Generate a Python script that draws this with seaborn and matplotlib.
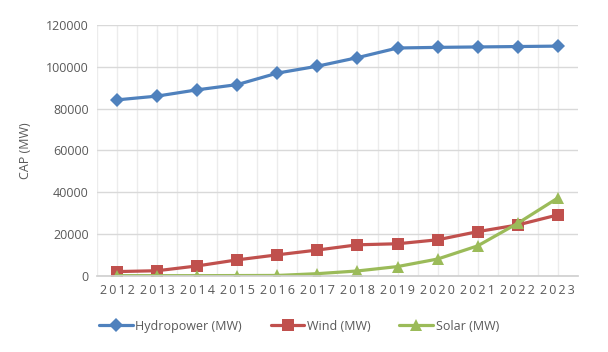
import pandas as pd
import matplotlib
matplotlib.use('Agg')
import matplotlib.pyplot as plt
import seaborn as sns

years = list(range(2012, 2024))
hydro = [84200, 86000, 89000, 91500, 97000, 100300, 104400, 109000, 109300, 109500, 109700, 109900]
wind = [2100, 2500, 4800, 7700, 10100, 12400, 14900, 15400, 17300, 21200, 24400, 29200]
solar = [150, 150, 150, 200, 250, 1100, 2400, 4500, 8100, 14400, 25200, 37300]
series_names = ['Hydropower (MW)', 'Wind (MW)', 'Solar (MW)']
y_ticks = [0, 20000, 40000, 60000, 80000, 100000, 120000]

sns.set_theme(style='white')
plt.rcParams['font.family'] = ['Open Sans', 'DejaVu Sans']
TXT = '#595959'

rows = []
for name, vals in zip(series_names, [hydro, wind, solar]):
    for y, v in zip(years, vals):
        rows.append({'year': y, 'value': v, 'series': name})
df = pd.DataFrame(rows)

fig = plt.figure(figsize=(6.08, 3.52), dpi=100)
ax = fig.add_axes([0.1595, 0.216, 0.791, 0.713])

palette = {'Hydropower (MW)': '#4F81BD', 'Wind (MW)': '#C0504D', 'Solar (MW)': '#9BBB59'}
markers = {'Hydropower (MW)': 'D', 'Wind (MW)': 's', 'Solar (MW)': '^'}
sizes = {'Hydropower (MW)': 7.5, 'Wind (MW)': 8, 'Solar (MW)': 9}

for name in series_names:
    sub = df[df['series'] == name]
    sns.lineplot(data=sub, x='year', y='value', ax=ax, color=palette[name],
                 marker=markers[name], markersize=sizes[name], markeredgewidth=0,
                 linewidth=2.3, label=name)

ax.set_xlim(2011.5, 2023.5)
ax.set_ylim(0, 120000)
ax.set_yticks(y_ticks)
ax.set_yticklabels([str(t) for t in y_ticks], color=TXT, fontsize=9)
ax.set_xticks(years)
ax.set_xticklabels(['\u2009'.join(str(y)) for y in years], color=TXT, fontsize=9)
ax.set_xticks([y + 0.5 for y in years[:-1]] + [2011.5], minor=True)
ax.grid(True, which='both', axis='x', color='#ececec', linewidth=1)
ax.grid(True, which='major', axis='y', color='#d9d9d9', linewidth=1)
ax.set_axisbelow(True)
ax.tick_params(axis='both', length=0, pad=6)
ax.tick_params(axis='x', which='minor', length=0)
for s in ['top', 'right', 'left']:
    ax.spines[s].set_visible(False)
ax.spines['bottom'].set_color('#d0d0d0')
ax.set_xlabel('')
ax.set_ylabel('CAP (MW)', color=TXT, fontsize=9, labelpad=10)

ax.legend(loc='upper center', bbox_to_anchor=(0.42, -0.13), ncol=3, frameon=False,
          fontsize=9, labelcolor=TXT, handlelength=2.7, columnspacing=2.3, handletextpad=0.2)

fig.savefig('out.png', dpi=100)
